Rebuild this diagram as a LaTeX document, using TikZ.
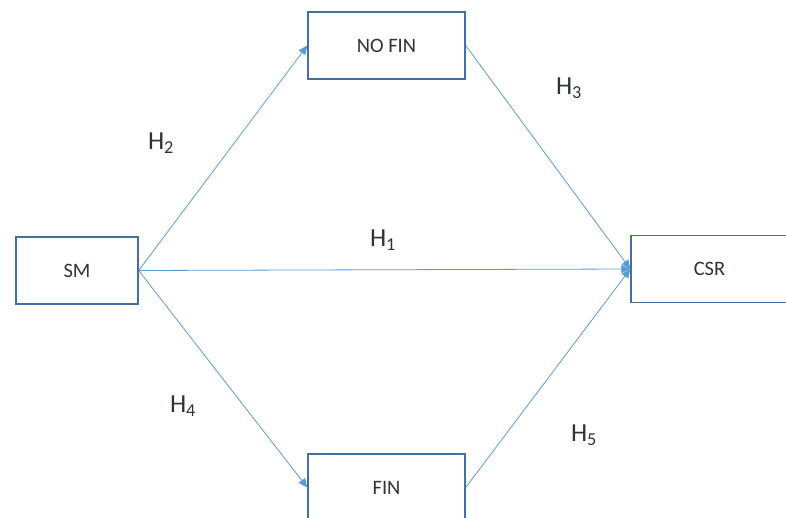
\documentclass[tikz,border=0pt]{standalone}
\usepackage{fontspec}
\setmainfont{Carlito}
\usepackage{tikz}
\usetikzlibrary{arrows.meta}
\usetikzlibrary{positioning}
\definecolor{boxline}{RGB}{65,113,156}
\definecolor{linkline}{RGB}{91,155,213}
\definecolor{txt}{RGB}{45,50,60}
\tikzstyle{var} = [rectangle, draw=boxline, line width=1.4pt, fill=white, text=txt, minimum width=157pt, minimum height=67pt, inner sep=0pt, font=\fontsize{20.5}{24}\selectfont]
\tikzstyle{link} = [draw=linkline, line width=0.8pt, -{Triangle[length=9pt,width=8pt]}]
\tikzstyle{hyp} = [text=txt, font=\fontsize{26}{30}\selectfont]

\begin{document}
\begin{tikzpicture}[x=1pt, y=-1pt]
	\useasboundingbox (0,0) rectangle (786,518);

	\node[var, minimum width=122pt](SM) at (77,270.5){SM};
	\node[var](NO-FIN) at ([xshift=309.5pt, yshift=225pt]SM.center){NO FIN};
	\node[var](FIN) at ([yshift=-442pt]NO-FIN.center){FIN};
	\node[var, minimum width=162pt](CSR) at (712,269){};
	\node[text=txt, font=\fontsize{20.5}{24}\selectfont](CSR-text) at (709.5,269){CSR};

	\draw[link] (SM.east) -- (NO-FIN.west);
	\draw[link] (SM.east) -- (FIN.west);
	\draw[link] (SM.east) -- (CSR.west);
	\draw[link] (NO-FIN.east) -- (CSR.west);
	\draw[link] (FIN.east) -- (CSR.west);

	\node[hyp](H1) at (383,240){H\textsubscript{1}};
	\node[hyp](H2) at (161,143){H\textsubscript{2}};
	\node[hyp](H3) at (569,88){H\textsubscript{3}};
	\node[hyp](H4) at (183,406){H\textsubscript{4}};
	\node[hyp](H5) at (584,435){H\textsubscript{5}};
\end{tikzpicture}
\end{document}
